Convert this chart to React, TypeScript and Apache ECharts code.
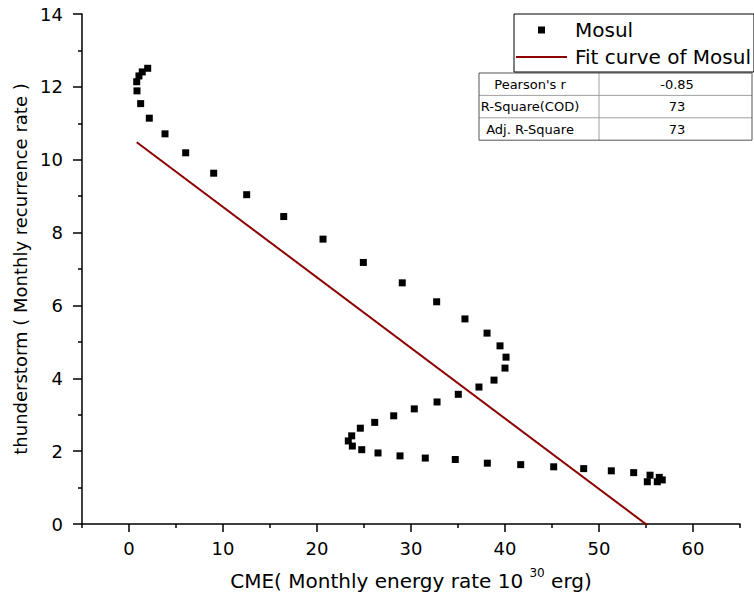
import React, { useEffect, useRef } from 'react';
import * as echarts from 'echarts';

// CME monthly energy rate (10^30 erg)
const cmeX = [
  1.99, 1.41, 1.06, 0.82, 0.85, 1.24, 2.16, 3.83, 6.03, 9.01, 12.52, 16.46,
  20.64, 24.93, 29.07, 32.73, 35.74, 38.09, 39.47, 40.11, 40.0, 38.83, 37.23,
  35.03, 32.77, 30.35, 28.16, 26.14, 24.61, 23.69, 23.33, 23.76, 24.76, 26.49,
  28.83, 31.52, 34.71, 38.12, 41.67, 45.18, 48.37, 51.31, 53.69, 55.43, 55.14,
  56.41, 56.2, 56.73,
];
// thunderstorm monthly recurrence rate
const stormY = [
  12.51, 12.41, 12.3, 12.14, 11.89, 11.54, 11.14, 10.71, 10.19, 9.63, 9.04, 8.44,
  7.82, 7.18, 6.62, 6.1, 5.63, 5.24, 4.89, 4.58, 4.28, 3.95, 3.76,
  3.56, 3.35, 3.16, 2.97, 2.79, 2.63, 2.42, 2.28, 2.14, 2.04, 1.95,
  1.87, 1.81, 1.77, 1.67, 1.63, 1.57, 1.52, 1.46, 1.41, 1.34, 1.16,
  1.28, 1.16, 1.21,
];
// fit line end points
const fitX = [0.82, 56.73];
const fitY = [10.48, -0.34];

const statNames = ["Pearson's r", 'R-Square(COD)', 'Adj. R-Square'];
const statValues = ['-0.85', '73', '73'];

const FONT = 'DejaVu Sans';

export default function App() {
  const ref = useRef<HTMLDivElement>(null);
  useEffect(() => {
    const chart = echarts.init(ref.current!, null, { renderer: 'svg' });
    const W = 754;
    const gLeft = 82;
    const gRight = 14;
    const gTop = 14;
    const gBottom = 83;
    const unit = (W - gLeft - gRight) / 70;

    const tblLeft = 479;
    const tblRight = 752;
    const tblTop = 73;
    const rowH = 22.4;
    const colDiv = 599;
    const tableEls: any[] = [];
    statNames.forEach((n, i) => {
      const y = tblTop + i * rowH;
      if (i > 0) {
        tableEls.push({
          type: 'line',
          shape: { x1: tblLeft, y1: y, x2: tblRight, y2: y },
          style: { stroke: '#a0a0a0', lineWidth: 1 },
        });
      }
      tableEls.push({
        type: 'text',
        x: 530,
        y: y + rowH / 2,
        style: { text: n, font: `13px "${FONT}"`, fill: '#000', align: 'center', verticalAlign: 'middle' },
      });
      tableEls.push({
        type: 'text',
        x: 677,
        y: y + rowH / 2,
        style: { text: statValues[i], font: `13px "${FONT}"`, fill: '#000', align: 'center', verticalAlign: 'middle' },
      });
    });
    tableEls.push({
      type: 'line',
      shape: { x1: colDiv, y1: tblTop, x2: colDiv, y2: tblTop + 3 * rowH },
      style: { stroke: '#a0a0a0', lineWidth: 1 },
    });
    tableEls.push({
      type: 'rect',
      shape: { x: tblLeft, y: tblTop, width: tblRight - tblLeft, height: 3 * rowH },
      style: { fill: 'none', stroke: '#555', lineWidth: 1 },
    });

    chart.setOption({
      animation: false,
      textStyle: { fontFamily: FONT },
      grid: [
        { left: gLeft, right: gRight, top: gTop, bottom: gBottom },
        { left: gLeft + 5 * unit, right: gRight + 5 * unit, top: gTop, bottom: gBottom },
      ],
      xAxis: [
        {
          type: 'value',
          gridIndex: 0,
          min: -5,
          max: 65,
          interval: 10,
          axisLine: { show: true, onZero: false, lineStyle: { color: '#000', width: 1.5 } },
          axisTick: { show: true, length: 4, lineStyle: { color: '#000', width: 1.5 } },
          axisLabel: { show: false },
          splitLine: { show: false },
          name: '{n|CME( Monthly energy rate 10 }{s|30}{n| erg)}',
          nameLocation: 'middle',
          nameGap: 43,
          nameTextStyle: {
            rich: {
              n: { fontSize: 20, fontFamily: FONT, color: '#000', verticalAlign: 'bottom', lineHeight: 24 },
              s: { fontSize: 12, fontFamily: FONT, color: '#000', verticalAlign: 'top', lineHeight: 24, padding: [0, 0, 10, 0] },
            },
          },
        },
        {
          type: 'value',
          gridIndex: 1,
          min: 0,
          max: 60,
          interval: 10,
          axisLine: { show: false, onZero: false },
          axisTick: { show: true, length: 8, lineStyle: { color: '#000', width: 1.5 } },
          axisLabel: { show: true, margin: 15, fontSize: 18, color: '#000', fontFamily: FONT },
          splitLine: { show: false },
        },
      ],
      yAxis: [
        {
          type: 'value',
          gridIndex: 0,
          min: 0,
          max: 14,
          interval: 2,
          axisLine: { show: true, onZero: false, lineStyle: { color: '#000', width: 1.5 } },
          axisTick: { show: true, length: 9, lineStyle: { color: '#000', width: 1.5 } },
          minorTick: { show: true, splitNumber: 2, length: 4, lineStyle: { color: '#000', width: 1.5 } },
          axisLabel: { margin: 19, fontSize: 18, color: '#000', fontFamily: FONT },
          splitLine: { show: false },
          minorSplitLine: { show: false },
          name: 'thunderstorm ( Monthly recurrence rate )',
          nameLocation: 'middle',
          nameGap: 46,
          nameTextStyle: { fontSize: 18, color: '#000', fontFamily: FONT },
        },
        {
          type: 'value',
          gridIndex: 1,
          min: 0,
          max: 14,
          show: false,
        },
      ],
      legend: {
        left: 514,
        top: 14,
        orient: 'vertical',
        align: 'left',
        padding: [6, 3, 5, 2],
        itemGap: 7,
        itemWidth: 51,
        itemHeight: 7,
        borderColor: '#000',
        borderWidth: 1,
        backgroundColor: '#fff',
        textStyle: { fontSize: 20, color: '#000', fontFamily: FONT, padding: [0, 0, 0, 3] },
        data: [
          { name: 'Mosul', icon: 'path://M0,0M51,7M22,0h7v7h-7z', itemStyle: { color: '#000', opacity: 1 } },
          { name: 'Fit curve of Mosul', icon: 'path://M0,0M51,7M0,2.5h51v2h-51z', itemStyle: { color: '#8b0000', opacity: 1 } },
        ],
      },
      series: [
        {
          name: 'Mosul',
          type: 'scatter',
          xAxisIndex: 0,
          yAxisIndex: 0,
          symbol: 'rect',
          symbolSize: 7,
          itemStyle: { color: '#000', opacity: 1 },
          data: cmeX.map((x, i) => [x, stormY[i]]),
          z: 3,
        },
        {
          name: 'Fit curve of Mosul',
          type: 'line',
          xAxisIndex: 0,
          yAxisIndex: 0,
          symbol: 'none',
          showSymbol: false,
          clip: true,
          lineStyle: { color: '#8b0000', width: 2 },
          itemStyle: { color: '#8b0000' },
          data: fitX.map((x, i) => [x, fitY[i]]),
          z: 2,
        },
      ],
      graphic: [{ type: 'group', children: tableEls }],
    });
    return () => chart.dispose();
  }, []);
  return <div ref={ref} style={{ position: 'fixed', left: 0, top: 0, width: 754, height: 607, background: '#fff' }} />;
}
